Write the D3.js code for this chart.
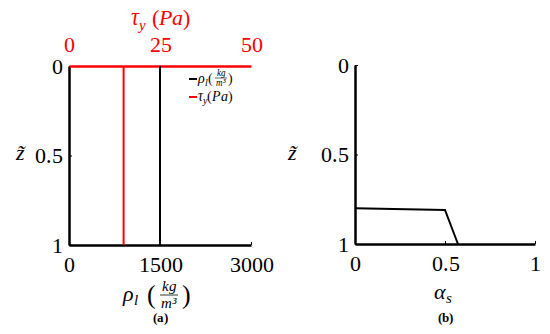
<!DOCTYPE html>
<html>
<head>
<script src="https://cdn.jsdelivr.net/npm/d3@7"></script>
<style>
  @font-face { font-family: 'ChartSerif'; src: local('Liberation Serif'), local('LiberationSerif'), local('LiberationSerif-Regular'); font-style: normal; font-weight: normal; }
  @font-face { font-family: 'ChartSerif'; src: local('Liberation Serif Italic'), local('LiberationSerif-Italic'); font-style: italic; font-weight: normal; }
  @font-face { font-family: 'ChartSerif'; src: local('Liberation Serif Bold'), local('LiberationSerif-Bold'); font-style: normal; font-weight: bold; }
</style>
</head>
<body style="margin:0">
<script>
// panel (a)
const rhoTicks = [0, 1500, 3000]
const tauTicks = [0, 25, 50]
const zTicks = [0, 0.5, 1]
const rhoValue = 1500   // vertical black line
const tauValue = 15     // vertical red line
// panel (b)
const alphaTicks = [0, 0.5, 1]
const alphaS = [0, 0.5, 0.572]
const zS = [0.80, 0.81, 1]

const FONT = "ChartSerif, 'Liberation Serif', 'Times New Roman', serif"
const fs = 22

const svg = d3.select('body').append('svg')
  .attr('width', 550).attr('height', 334)

function txt(g, x, y, size) {
  return g.append('text').attr('x', x).attr('y', y)
    .attr('font-family', FONT).attr('font-size', size)
}

function styleAxis(g, color) {
  g.attr('font-family', FONT)
  g.select('.domain').attr('stroke', color).attr('stroke-width', 2.5)
  g.selectAll('.tick line').attr('stroke', color).attr('stroke-width', 1)
  g.selectAll('.tick text').attr('fill', color)
    .attr('font-family', FONT).attr('font-size', fs)
}

const fmt = d => d === 0.5 ? '0.5' : String(d)

// ---------- panel (a)
let xRho = d3.scaleLinear().domain([0, 3000]).range([69, 251])
let xTau = d3.scaleLinear().domain([0, 50]).range([69, 251])
let yA = d3.scaleLinear().domain([0, 1]).range([66, 245])

let gA = svg.append('g')

gA.append('g').attr('transform', 'translate(0,' + yA(1) + ')')
  .call(d3.axisBottom(xRho).tickValues(rhoTicks).tickSizeInner(-3).tickSizeOuter(0).tickPadding(11).tickFormat(d => String(d)))
  .call(g => styleAxis(g, '#000'))

gA.append('g').attr('transform', 'translate(' + xRho(0) + ',0)')
  .call(d3.axisLeft(yA).tickValues(zTicks).tickSizeInner(-3).tickSizeOuter(0).tickPadding(6).tickFormat(fmt))
  .call(g => styleAxis(g, '#000'))

gA.append('g').attr('transform', 'translate(0,' + yA(0) + ')')
  .call(d3.axisTop(xTau).tickValues(tauTicks).tickSizeInner(0).tickSizeOuter(0).tickPadding(14).tickFormat(d => String(d)))
  .call(g => styleAxis(g, '#f00'))

gA.append('line')
  .attr('x1', xRho(rhoValue)).attr('x2', xRho(rhoValue))
  .attr('y1', yA(0)).attr('y2', yA(1))
  .attr('stroke', '#000').attr('stroke-width', 2)

gA.append('line')
  .attr('x1', xTau(tauValue)).attr('x2', xTau(tauValue))
  .attr('y1', yA(0)).attr('y2', yA(1))
  .attr('stroke', '#f00').attr('stroke-width', 2)

// top title
let t = txt(gA, 160, 25, fs).attr('text-anchor', 'middle').attr('fill', '#f00')
t.append('tspan').attr('font-style', 'italic').text('τ')
t.append('tspan').attr('font-style', 'italic').attr('font-size', 15).attr('dy', 5).text('y')
t.append('tspan').attr('dy', -5).text(' (')
t.append('tspan').attr('font-style', 'italic').text('Pa')
t.append('tspan').text(')')

// legend
let leg = gA.append('g')
leg.append('line').attr('x1', 189).attr('x2', 197).attr('y1', 79).attr('y2', 79).attr('stroke', '#000').attr('stroke-width', 2)
let l1 = txt(leg, 198, 83, 14)
l1.append('tspan').attr('font-style', 'italic').text('ρ')
l1.append('tspan').attr('font-style', 'italic').attr('font-size', 10).attr('dy', 3).text('l')
l1.append('tspan').attr('dy', -3).text('(')
txt(leg, 221, 76, 9).attr('text-anchor', 'middle').attr('font-style', 'italic').text('kg')
leg.append('line').attr('x1', 215).attr('x2', 227).attr('y1', 78).attr('y2', 78).attr('stroke', '#000').attr('stroke-width', 0.6)
txt(leg, 221, 86, 9).attr('text-anchor', 'middle').attr('font-style', 'italic').text('m³')
txt(leg, 228, 83, 14).text(')')

leg.append('line').attr('x1', 189).attr('x2', 197).attr('y1', 97).attr('y2', 97).attr('stroke', '#f00').attr('stroke-width', 2)
let l2 = txt(leg, 198, 101, 14)
l2.append('tspan').attr('font-style', 'italic').text('τ')
l2.append('tspan').attr('font-style', 'italic').attr('font-size', 10).attr('dy', 3).text('y')
l2.append('tspan').attr('dy', -3).text('(')
l2.append('tspan').attr('font-style', 'italic').text('Pa')
l2.append('tspan').text(')')

// x label (a)
let xl = txt(gA, 123, 301, fs)
xl.append('tspan').attr('font-style', 'italic').text('ρ')
xl.append('tspan').attr('font-style', 'italic').attr('font-size', 15).attr('dy', 4).text('l')
txt(gA, 147, 303, 26).text('(')
txt(gA, 169, 291, 15).attr('text-anchor', 'middle').attr('font-style', 'italic').text('kg')
gA.append('line').attr('x1', 160).attr('x2', 178).attr('y1', 295).attr('y2', 295).attr('stroke', '#000').attr('stroke-width', 0.8)
txt(gA, 169, 308, 15).attr('text-anchor', 'middle').attr('font-style', 'italic').text('m³')
txt(gA, 182, 303, 26).text(')')

txt(gA, 160, 322, 13).attr('text-anchor', 'middle').attr('font-weight', 'bold').text('(a)')

txt(gA, 20, 160, fs).attr('text-anchor', 'middle').attr('font-style', 'italic').text('z̃')

// ---------- panel (b)
let xB = d3.scaleLinear().domain([0, 1]).range([355, 535])
let yB = d3.scaleLinear().domain([0, 1]).range([65, 244])
let gB = svg.append('g')

gB.append('g').attr('transform', 'translate(0,' + yB(1) + ')')
  .call(d3.axisBottom(xB).tickValues(alphaTicks).tickSizeInner(-3).tickSizeOuter(0).tickPadding(11).tickFormat(fmt))
  .call(g => styleAxis(g, '#000'))

gB.append('g').attr('transform', 'translate(' + xB(0) + ',0)')
  .call(d3.axisLeft(yB).tickValues(zTicks).tickSizeInner(-3).tickSizeOuter(0).tickPadding(6).tickFormat(fmt))
  .call(g => styleAxis(g, '#000'))

let pts = alphaS.map((a, i) => [a, zS[i]])
gB.append('path').datum(pts)
  .attr('d', d3.line().x(d => xB(d[0])).y(d => yB(d[1])))
  .attr('fill', 'none').attr('stroke', '#000').attr('stroke-width', 2)

txt(gB, 292, 160, fs).attr('text-anchor', 'middle').attr('font-style', 'italic').text('z̃')

let xl2 = txt(gB, 434, 299, fs)
xl2.append('tspan').attr('font-style', 'italic').text('α')
xl2.append('tspan').attr('font-style', 'italic').attr('font-size', 15).attr('dy', 4).text('s')

txt(gB, 445, 322, 13).attr('text-anchor', 'middle').attr('font-weight', 'bold').text('(b)')
</script>
</body>
</html>
